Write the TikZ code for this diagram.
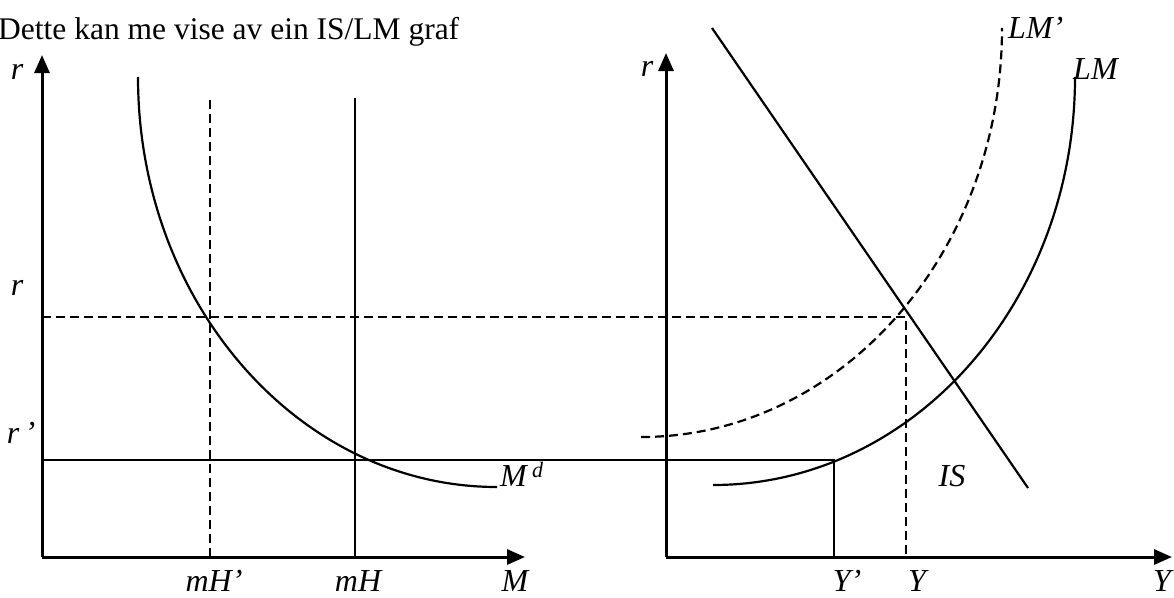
\documentclass[tikz,border=0pt]{standalone}
\usepackage{fontspec}
\setmainfont{Liberation Serif}
\usetikzlibrary{arrows.meta}
\begin{document}
\begin{tikzpicture}[x=1pt,y=-1pt,
  axis/.style={line width=3pt,-{Triangle[length=18pt,width=15pt]}},
  solidline/.style={line width=2.2pt},
  dashline/.style={line width=2.2pt,dash pattern=on 9pt off 5pt},
  lbl/.style={font=\fontsize{32}{38}\selectfont\itshape,inner sep=0pt},
  title/.style={font=\fontsize{31.5}{38}\selectfont,inner sep=0pt}]
\useasboundingbox (0,0) rectangle (1174,597);
% title
\node[title,anchor=base west] (t) at (-2,39) {Dette kan me vise av ein IS/LM graf};
% left axes
\coordinate (LO) at (42,557);
\coordinate (LYt) at (42,55);
\coordinate (LXt) at (525,557);
\draw[axis] (LO) -- (LYt);
\draw[axis] (LO) -- (LXt);
% right axes
\coordinate (RO) at (666,557);
\coordinate (RYt) at (666,53);
\coordinate (RXt) at (1172,557);
\draw[axis] (RO) -- (RYt);
\draw[axis] (RO) -- (RXt);
% money demand curve
\coordinate (Md1) at (138,77);
\coordinate (Md2) at (497,487);
\draw[solidline] (Md1) .. controls (138,303) and (299,487) .. (Md2);
% money supply lines
\coordinate (mHpt) at (210,100);
\coordinate (mHpb) at (210,557);
\coordinate (mHt) at (355,98);
\coordinate (mHb) at (355,557);
\draw[dashline] (mHpt) -- (mHpb);
\draw[solidline] (mHt) -- (mHb);
% horizontal guides
\coordinate (rL) at (42,317);
\coordinate (rR) at (906,317);
\coordinate (Yb) at (906,557);
\draw[dashline] (rL) -- (rR) -- (Yb);
\coordinate (rpL) at (42,460);
\coordinate (rpR) at (834,460);
\coordinate (Ypb) at (834,557);
\draw[solidline] (rpL) -- (rpR) -- (Ypb);
% IS
\coordinate (IS1) at (712,28);
\coordinate (IS2) at (1028,488);
\draw[solidline] (IS1) -- (IS2);
% LM'
\coordinate (LMp1) at (641,437);
\coordinate (LMp2) at (1002,28);
\draw[dashline] (LMp1) .. controls (840,437) and (1002,254) .. (LMp2);
% LM
\coordinate (LM1) at (713,485);
\coordinate (LM2) at (1075,77);
\draw[solidline] (LM1) .. controls (913,485) and (1075,302) .. (LM2);
% labels
\node[lbl] (lr) at (17,72) {r};
\node[lbl] (lr1) at (17,288) {r};
\node[lbl] (lr2) at (21,433) {r\,’};
\node[lbl] (lmhp) at (214,581) {mH’};
\node[lbl] (lmh) at (358,581) {mH};
\node[lbl] (lm) at (515,581) {M};
\node[lbl,anchor=west] (lmd) at (500,474) {M\,\raisebox{0.6ex}{\fontsize{22}{26}\selectfont d}};
\node[lbl] (rr) at (647,69) {r};
\node[lbl,anchor=west] (llmp) at (1008,28) {LM’};
\node[lbl,anchor=west] (llm) at (1073,69) {LM};
\node[lbl] (lis) at (952,476) {IS};
\node[lbl] (lyp) at (847,581) {Y’};
\node[lbl] (ly) at (917,581) {Y};
\node[lbl] (lyax) at (1162,581) {Y};
\end{tikzpicture}
\end{document}
